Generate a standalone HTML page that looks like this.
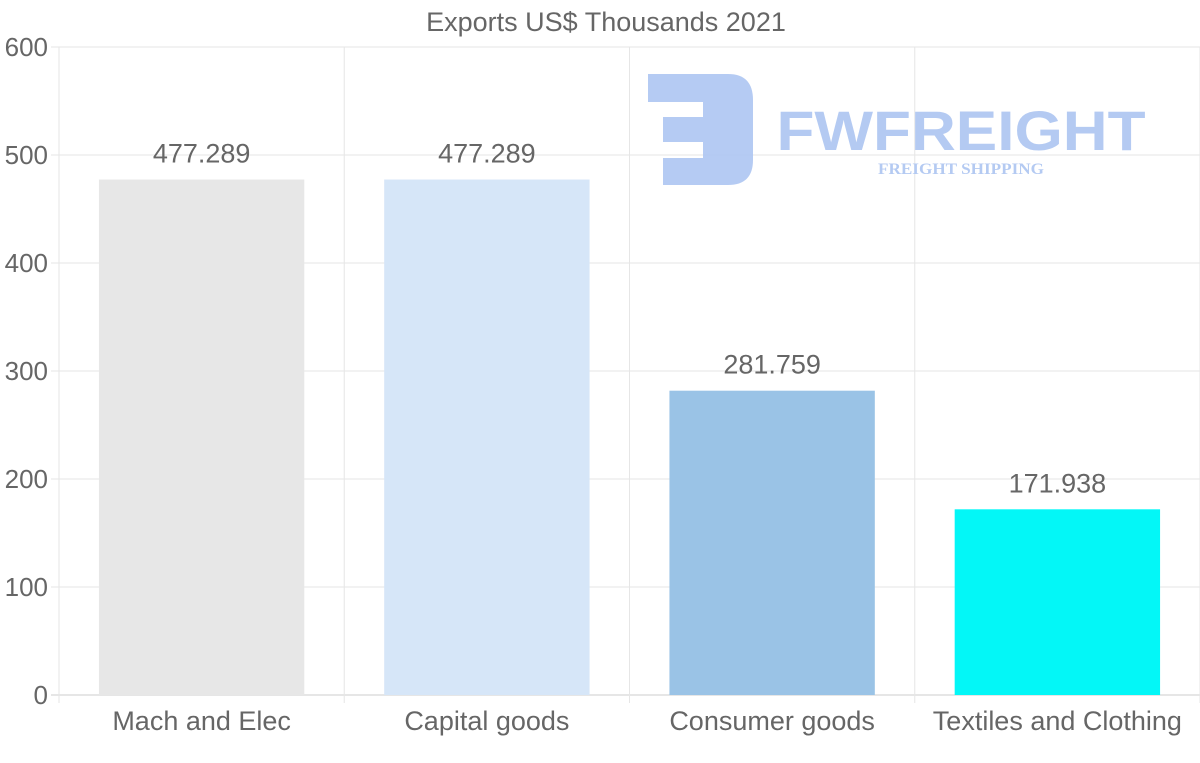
<!DOCTYPE html>
<html><head><meta charset="utf-8"><style>
html,body{margin:0;padding:0;background:#fff;}
svg{display:block;font-family:"Liberation Sans",sans-serif;}
</style></head><body>
<svg id="chart" width="1200" height="763">
<text x="606" y="31" text-anchor="middle" font-size="27" fill="#666">Exports US$ Thousands 2021</text>
<g id="grid"></g>
<g id="logo" opacity="0.95">
<path d="M648 74 H728 Q753 74 753 100 V160 Q753 185 728 185 H663 V158 H703 V142 H663 V117 H703 V102 H648 Z" fill="#b1c8f2"/>
<text x="961" y="150" text-anchor="middle" font-size="56" font-weight="bold" fill="#b1c8f2" textLength="369" lengthAdjust="spacingAndGlyphs">FWFREIGHT</text>
<text x="961" y="174" text-anchor="middle" font-family="Liberation Serif,serif" font-size="16" font-weight="bold" fill="#b1c8f2" textLength="166" lengthAdjust="spacingAndGlyphs">FREIGHT SHIPPING</text>
</g>
<g id="bars"></g>
</svg>
<script>
const categories=["Mach and Elec","Capital goods","Consumer goods","Textiles and Clothing"];
const values=[477.289,477.289,281.759,171.938];
const labels=["477.289","477.289","281.759","171.938"];
const colors=["#e7e7e7","#d6e6f8","#9ac3e6","#03f7f7"];
const yTicks=[0,100,200,300,400,500,600];
const NS="http://www.w3.org/2000/svg";
const L=59,R=1200,T=47,B=695,yMax=600;
const y=v=>B-(v/yMax)*(B-T);
const bw=(R-L)/categories.length;
const x=i=>L+bw*i;
function mk(tag,a,parent){const e=document.createElementNS(NS,tag);for(const k in a)e.setAttribute(k,a[k]);parent.appendChild(e);return e;}
const grid=document.getElementById('grid'),bars=document.getElementById('bars');
yTicks.forEach(t=>{
  const ln=mk('line',{x1:L-8,x2:R,y1:y(t),y2:y(t),stroke:t===0?'#ccc':'#e6e6e6','stroke-width':1},grid);
  
  
  const tx=mk('text',{x:48,y:y(t)+9,'text-anchor':'end','font-size':26,fill:'#666'},grid);
  tx.textContent=t;
  
  
});
for(let i=0;i<=categories.length;i++){
  const ln=mk('line',{x1:x(i),x2:x(i),y1:T,y2:B+8,stroke:'#e6e6e6','stroke-width':1},grid);
  
  
}
categories.forEach((c,i)=>{
  const cx=x(i)+bw/2, w=bw*0.72;
  const r=mk('rect',{x:cx-w/2,y:y(values[i]),width:w,height:B-y(values[i]),fill:colors[i]},bars);
  
  
  const v=mk('text',{x:cx,y:y(values[i])-17,'text-anchor':'middle','font-size':27,fill:'#666'},bars);
  v.textContent=labels[i];
  
  
  const l=mk('text',{x:cx,y:730,'text-anchor':'middle','font-size':27,fill:'#666'},bars);
  l.textContent=c;
  
  
});
</script>
</body></html>
